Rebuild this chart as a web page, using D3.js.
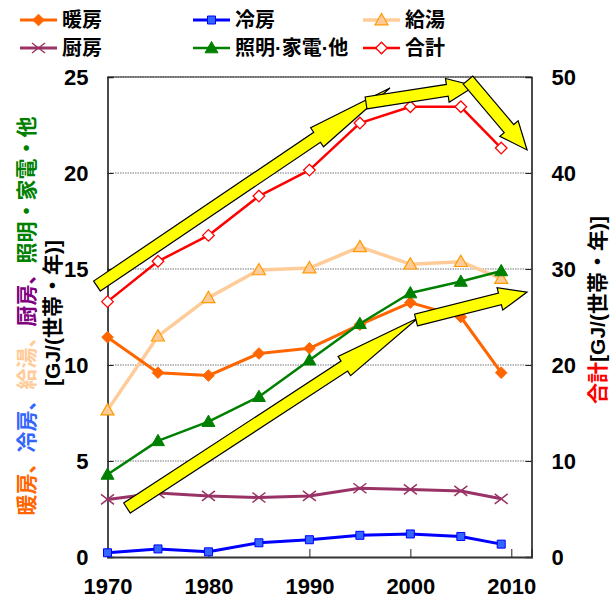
<!DOCTYPE html>
<html><head><meta charset="utf-8">
<script src="https://cdn.jsdelivr.net/npm/d3@7"></script>
<style>body{margin:0;background:#fff}svg{display:block}</style>
</head><body><svg id="chart" width="616" height="601"></svg>
<script>
// Household energy use per end use (GJ per household per year)
const years = [1970, 1975, 1980, 1985, 1990, 1995, 2000, 2005, 2009];
const heating = [11.45, 9.6, 9.45, 10.6, 10.87, 12.1, 13.25, 12.5, 9.6];
const cooling = [0.22, 0.42, 0.27, 0.74, 0.9, 1.13, 1.2, 1.07, 0.67];
const hotWater = [7.65, 11.5, 13.5, 14.95, 15.05, 16.15, 15.25, 15.38, 14.5];
const kitchen = [3.0, 3.33, 3.18, 3.1, 3.18, 3.58, 3.52, 3.44, 3.03];
const lighting = [4.3, 6.05, 7.05, 8.35, 10.25, 12.15, 13.75, 14.35, 14.9];
const total = [26.6, 30.8, 33.5, 37.6, 40.3, 45.2, 46.9, 46.9, 42.6];   // right axis
const seriesNames = ["暖房", "冷房", "給湯", "厨房", "照明·家電·他", "合計"];
const leftTicks = [0, 5, 10, 15, 20, 25];
const rightTicks = [0, 10, 20, 30, 40, 50];
const yearTicks = [1970, 1980, 1990, 2000, 2010];
// Trend arrows, [year, left-axis value] for tail and tip
const arrowFrom = [[1968.96, 14.11], [1995.61, 23.65], [2005.71, 24.84], [1971.93, 2.55], [2000.56, 12.34]];
const arrowTo = [[1997.98, 24.43], [2006.4, 24.53], [2011.56, 21.2], [2000.76, 12.45], [2011.56, 13.8]];

const FONT = "'Liberation Sans', Arial, 'Noto Sans CJK JP', sans-serif";
const svg = d3.select("#chart");
const L = 107.5, R = 531.5, T = 77, B = 557;

const x = d3.scaleLinear().domain([1970, 2012]).range([L, R]);
const yL = d3.scaleLinear().domain([0, 25]).range([B, T]);
const yR = d3.scaleLinear().domain([0, 50]).range([B, T]);

// gridlines
svg.append("g").selectAll("line").data(leftTicks.filter(d => d > 0)).join("line")
  .attr("x1", L).attr("x2", R).attr("y1", d => yL(d)).attr("y2", d => yL(d))
  .attr("stroke", "#777").attr("stroke-width", 1).attr("stroke-dasharray", "1.5,1");

// axes
const axL = svg.append("g").attr("transform", `translate(${L},0)`)
  .call(d3.axisLeft(yL).tickValues(leftTicks).tickSize(-6).tickPadding(19));
const axR = svg.append("g").attr("transform", `translate(${R},0)`)
  .call(d3.axisRight(yR).tickValues(rightTicks).tickSize(-6).tickPadding(20));
const axB = svg.append("g").attr("transform", `translate(0,${B})`)
  .call(d3.axisBottom(x).tickValues(yearTicks).tickFormat(d3.format("d")).tickSize(-8).tickPadding(16));
[axL, axR, axB].forEach(g => {
  g.selectAll("text").attr("font-family", FONT).attr("font-weight", "bold")
    .attr("font-size", 22).attr("fill", "#000");
  g.selectAll("line").attr("stroke", "#222");
  g.select(".domain").attr("stroke", "#111").attr("stroke-width", 1.5);
});
axB.select(".domain").attr("stroke", "#333").attr("stroke-width", 2);
axB.selectAll("text").attr("dy", "0.95em");
svg.append("line").attr("x1", L).attr("x2", R).attr("y1", T).attr("y2", T)
  .attr("stroke", "#222").attr("stroke-width", 1);

// series
const markers = {
  diamond: "M0,-5.8L5.8,0L0,5.8L-5.8,0Z",
  square: "M-4,-4H4V4H-4Z",
  triangle: "M0,-6.5L6.5,4.8L-6.5,4.8Z",
  cross: "M-6.5,-5L6.5,5M-6.5,5L6.5,-5"
};
const series = [
  {name: seriesNames[2], values: hotWater, scale: yL, line: "#FFCC99", w: 3.5, m: "triangle", fill: "#FFCC99", stroke: "#FF9900", sw: 1.2},
  {name: seriesNames[0], values: heating, scale: yL, line: "#FF6600", w: 3, m: "diamond", fill: "#FF6600", stroke: "#FF6600", sw: 1},
  {name: seriesNames[1], values: cooling, scale: yL, line: "#0000FF", w: 3, m: "square", fill: "#3366FF", stroke: "#0000FF", sw: 1},
  {name: seriesNames[3], values: kitchen, scale: yL, line: "#993366", w: 3, m: "cross", fill: "none", stroke: "#993366", sw: 1.5},
  {name: seriesNames[4], values: lighting, scale: yL, line: "#008000", w: 2.5, m: "triangle", fill: "#008000", stroke: "#008000", sw: 1},
  {name: seriesNames[5], values: total, scale: yR, line: "#FF0000", w: 2.5, m: "diamond", fill: "#FFFFFF", stroke: "#FF0000", sw: 1.3}
];
series.forEach(s => {
  const pts = years.map((yr, i) => [x(yr), s.scale(s.values[i])]);
  svg.append("path").attr("d", d3.line()(pts)).attr("fill", "none")
    .attr("stroke", s.line).attr("stroke-width", s.w).attr("stroke-linejoin", "round");
  svg.append("g").selectAll("path").data(pts).join("path")
    .attr("transform", d => `translate(${d[0]},${d[1]})`)
    .attr("d", markers[s.m]).attr("fill", s.fill).attr("stroke", s.stroke).attr("stroke-width", s.sw);
});

// block arrows
const arrowShape = [
  {shaft: 12, head: 23, headLen: 88},
  {shaft: 12, head: 24, headLen: 28},
  {shaft: 12.5, head: 24, headLen: 28},
  {shaft: 12, head: 23, headLen: 88},
  {shaft: 12, head: 23, headLen: 28}
];
function arrowPath(a, b, s) {
  const ax = x(a[0]), ay = yL(a[1]), bx = x(b[0]), by = yL(b[1]);
  const len = Math.hypot(bx - ax, by - ay);
  const ux = (bx - ax) / len, uy = (by - ay) / len, nx = -uy, ny = ux;
  const cx = bx - ux * s.headLen, cy = by - uy * s.headLen;
  const p = [
    [ax + nx * s.shaft / 2, ay + ny * s.shaft / 2],
    [cx + nx * s.shaft / 2, cy + ny * s.shaft / 2],
    [cx + nx * s.head / 2, cy + ny * s.head / 2],
    [bx, by],
    [cx - nx * s.head / 2, cy - ny * s.head / 2],
    [cx - nx * s.shaft / 2, cy - ny * s.shaft / 2],
    [ax - nx * s.shaft / 2, ay - ny * s.shaft / 2]
  ];
  return "M" + p.map(q => q.join(",")).join("L") + "Z";
}
arrowFrom.forEach((a, i) => {
  svg.append("path").attr("d", arrowPath(a, arrowTo[i], arrowShape[i]))
    .attr("fill", "#FFFF00").attr("stroke", "#000").attr("stroke-width", 1.2)
    .attr("stroke-linejoin", "miter");
});

// legend
const legendCols = [20, 193, 363], legendRows = [20, 48];
const legendOrder = [1, 2, 0, 3, 4, 5]; // index into series for 暖房,冷房,給湯,厨房,照明,合計
legendOrder.forEach((si, k) => {
  const s = series[si];
  const lx = legendCols[k % 3], ly = legendRows[Math.floor(k / 3)];
  const g = svg.append("g").attr("transform", `translate(${lx},${ly})`);
  g.append("line").attr("x1", 0).attr("x2", 37).attr("stroke", s.line).attr("stroke-width", s.w);
  g.append("path").attr("transform", "translate(18.5,0)").attr("d", markers[s.m])
    .attr("fill", s.fill).attr("stroke", s.stroke).attr("stroke-width", s.sw);
  g.append("text").attr("x", 42).attr("dy", "0.36em").text(s.name)
    .attr("font-family", FONT).attr("font-weight", "bold").attr("font-size", 20).attr("fill", "#000");
});

// axis titles
const leftTitle = svg.append("text")
  .attr("transform", "translate(26,316) rotate(-90)")
  .attr("text-anchor", "middle").attr("dominant-baseline", "central")
  .attr("font-family", FONT).attr("font-weight", "bold").attr("font-size", 21);
[["暖房、", "#FF6600"], ["冷房、", "#3366FF"], ["給湯、", "#FFCC99"], ["厨房、", "#800080"], ["照明・家電・他", "#008000"]]
  .forEach(([t, c]) => leftTitle.append("tspan").attr("fill", c).text(t));
svg.append("text")
  .attr("transform", "translate(52,313) rotate(-90)")
  .attr("text-anchor", "middle").attr("dominant-baseline", "central")
  .attr("font-family", FONT).attr("font-weight", "bold").attr("font-size", 21)
  .attr("fill", "#000").text("[GJ/(世帯・年)]");
const rightTitle = svg.append("text")
  .attr("transform", "translate(597,310) rotate(-90)")
  .attr("text-anchor", "middle").attr("dominant-baseline", "central")
  .attr("font-family", FONT).attr("font-weight", "bold").attr("font-size", 21);
rightTitle.append("tspan").attr("fill", "#FF0000").text("合計");
rightTitle.append("tspan").attr("fill", "#000").text("[GJ/(世帯・年)]");
</script>
</body></html>
